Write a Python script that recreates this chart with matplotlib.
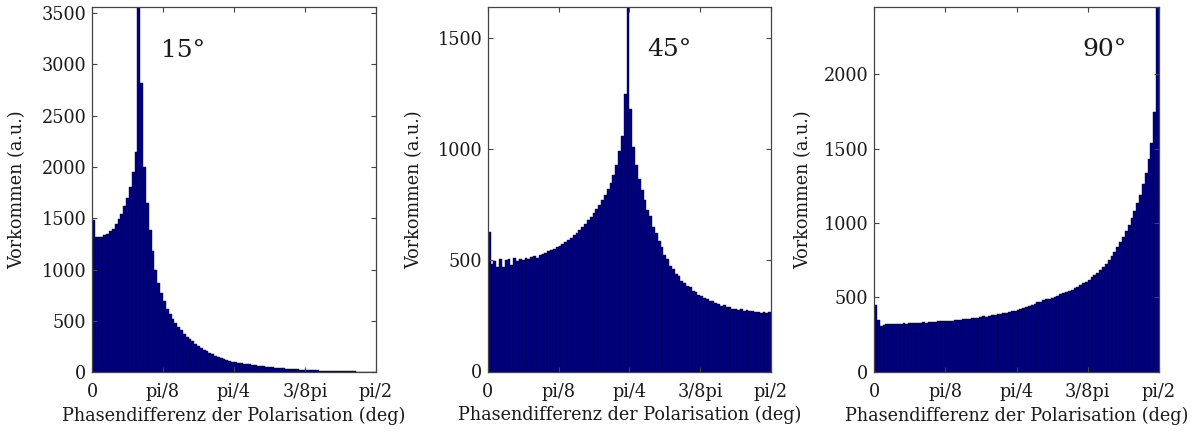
import numpy as np
import matplotlib
matplotlib.use("Agg")
import matplotlib.pyplot as plt

# ---------------- data (counts per bin, 100 bins from 0 to pi/2) ----------------
counts_15 = [
    1480, 1320, 1318, 1322, 1335, 1350, 1372, 1400, 1440, 1490,
    1545, 1615, 1700, 1800, 1950, 2150, 3555, 2820, 2000, 1650,
    1390, 1180, 1000, 870, 770, 690, 620, 570, 520, 480,
    440, 410, 375, 345, 322, 300, 280, 255, 238, 220,
    206, 190, 176, 163, 150, 140, 131, 120, 114, 105,
    101, 95, 92, 85, 82, 76, 73, 68, 66, 60,
    58, 54, 52, 48, 46, 42, 41, 38, 37, 34,
    32, 30, 29, 27, 25, 24, 22, 21, 20, 18,
    17, 16, 15, 14, 13, 12, 12, 11, 10, 10,
    9, 8, 8, 7, 7, 6, 6, 5, 5, 4,
]

counts_45 = [
    626, 485, 495, 470, 505, 472, 500, 505, 478, 510,
    498, 508, 500, 512, 505, 515, 518, 512, 525, 530,
    535, 540, 545, 552, 558, 565, 572, 582, 592, 600,
    612, 622, 636, 650, 665, 680, 695, 712, 730, 750,
    772, 795, 820, 850, 885, 930, 990, 1060, 1250, 1638,
    1180, 1010, 930, 865, 815, 770, 725, 700, 650, 625,
    585, 560, 525, 508, 475, 462, 440, 428, 408, 400,
    385, 378, 362, 358, 346, 340, 330, 326, 316, 318,
    306, 304, 296, 298, 289, 288, 282, 283, 278, 279,
    274, 275, 271, 270, 268, 267, 265, 266, 264, 266,
]

counts_90 = [
    449, 350, 308, 315, 318, 320, 322, 321, 323, 322,
    325, 324, 326, 327, 326, 328, 330, 332, 331, 334,
    336, 335, 338, 340, 339, 342, 344, 343, 347, 350,
    349, 353, 356, 355, 360, 363, 362, 368, 372, 371,
    378, 380, 383, 386, 390, 394, 398, 402, 406, 411,
    416, 424, 428, 436, 442, 452, 458, 466, 472, 480,
    486, 492, 498, 505, 512, 520, 527, 536, 544, 553,
    562, 572, 582, 594, 606, 620, 634, 650, 667, 685,
    705, 726, 750, 776, 805, 836, 870, 905, 945, 990,
    1035, 1080, 1135, 1190, 1260, 1340, 1430, 1540, 1750, 2452,
]

panel_titles = ["15°", "45°", "90°"]
xtick_labels = ["0", "pi/8", "pi/4", "3/8pi", "pi/2"]
yticks_list = [
    [0, 500, 1000, 1500, 2000, 2500, 3000, 3500],
    [0, 500, 1000, 1500],
    [0, 500, 1000, 1500, 2000],
]
xlabel_text = "Phasendifferenz der Polarisation (deg)"
ylabel_text = "Vorkommen (a.u.)"

# ---------------- styling ----------------
plt.rcParams["font.family"] = ["DejaVu Serif"]
plt.rcParams["font.size"] = 12.7
FS = 12.7
navy = (0.0, 0.0, 0.5)
axcol = "#444444"
txtcol = "#1a1a1a"

W, H = 1202, 434
fig = plt.figure(figsize=(W / 100, H / 100), dpi=100)

# axes boxes in pixels (left, right, top, bottom)
boxes = [
    (92, 376, 7.3, 372.3),
    (487.7, 771, 7.3, 371.5),
    (874, 1159, 7.3, 371.7),
]
title_pos = [0.32, 0.643, 0.81]
ylab_x = [-0.23, -0.226, -0.215]

nbins = 100
edges = np.linspace(0, np.pi / 2, nbins + 1)
centers = 0.5 * (edges[:-1] + edges[1:])
bw = edges[1] - edges[0]

for k, counts in enumerate([counts_15, counts_45, counts_90]):
    l, r, t, b = boxes[k]
    ax = fig.add_axes([l / W, 1 - b / H, (r - l) / W, (b - t) / H])
    ax.bar(centers, counts, width=bw, color=navy, edgecolor=(0, 0, 0.33),
           linewidth=0.3, align="center")
    ax.set_xlim(0, np.pi / 2)
    ax.set_ylim(0, max(counts))
    ax.set_xticks([0, np.pi / 8, np.pi / 4, 3 * np.pi / 8, np.pi / 2])
    ax.set_xticklabels(xtick_labels)
    ax.set_yticks(yticks_list[k])
    ax.tick_params(direction="in", length=3.5, width=0.8, colors=axcol,
                   labelcolor=txtcol, labelsize=FS, top=True, right=True)
    ax.tick_params(axis="y", pad=4)
    ax.tick_params(axis="x", pad=8)
    for s in ax.spines.values():
        s.set_color(axcol)
        s.set_linewidth(0.9)
    ax.set_xlabel(xlabel_text, fontsize=FS, color=txtcol, labelpad=4)
    ax.set_ylabel(ylabel_text, fontsize=FS, color=txtcol)
    ax.yaxis.set_label_coords(ylab_x[k], 0.5)
    ax.text(title_pos[k], 0.883, panel_titles[k], transform=ax.transAxes,
            fontsize=18, color=txtcol, ha="center", va="center")

fig.savefig("out.png", dpi=100)
